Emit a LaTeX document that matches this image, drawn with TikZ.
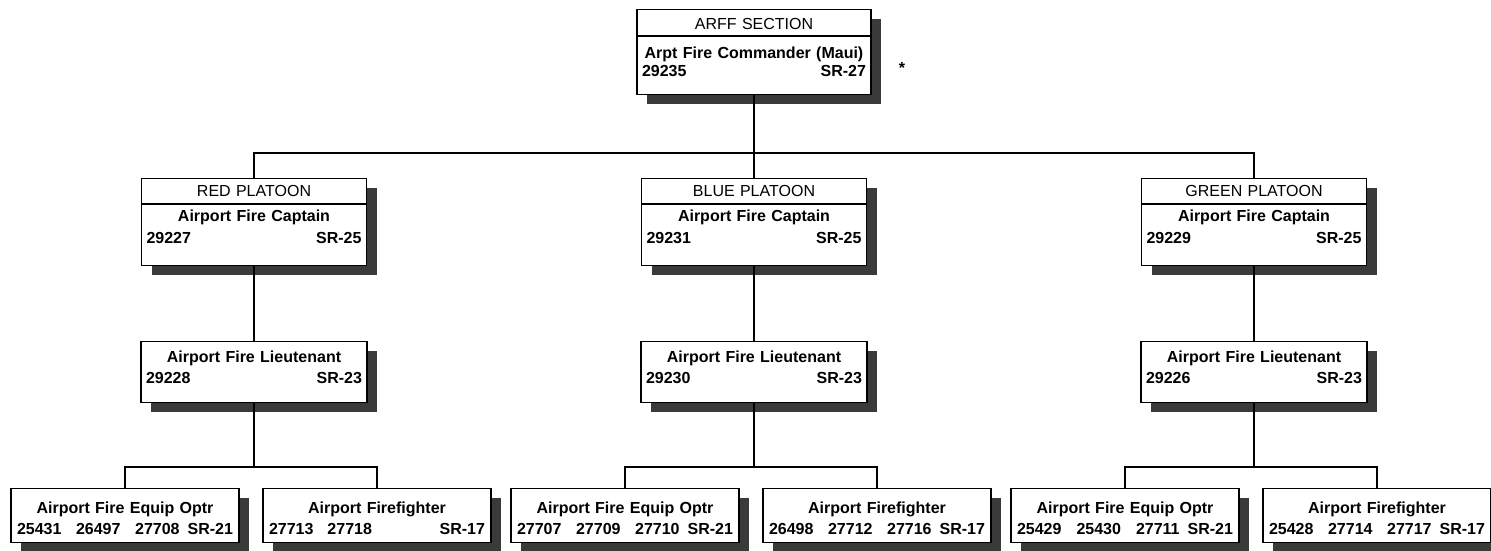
\documentclass[tikz,border=0pt]{standalone}
\usepackage{fontspec}
\setmainfont{Liberation Sans}
\usetikzlibrary{shadows,positioning}
\definecolor{orgshadow}{RGB}{58,58,58}
\newcommand{\unithdr}[1]{{\mdseries #1}}

\begin{document}
\begin{tikzpicture}[
  x=1pt,y=-1pt,
  every node/.style={font=\fontsize{16}{22}\selectfont\bfseries},
  posbox/.style={draw,line width=1.3pt,fill=white,anchor=north,inner xsep=5pt,inner ysep=0pt,align=center,
    drop shadow={shadow xshift=10pt,shadow yshift=-9pt,fill=orgshadow,opacity=1}},
  unitbox/.style={posbox,text width=224pt,text height=20pt,text depth=65pt},
  platbox/.style={posbox,text width=215pt,text height=18pt,text depth=69pt},
  ltbox/.style={posbox,text width=216pt,text height=21pt,text depth=40pt},
  jobbox/.style={posbox,inner xsep=6pt,text width=216pt,text height=25pt,text depth=29pt},
  divider/.style={line width=1.3pt},
  wire/.style={line width=1.2pt}
]
  \useasboundingbox (0,0) rectangle (1491,550);

  % Section head
  \node[unitbox] (arff) at (754,9) {\unithdr{ARFF SECTION}\\[7pt] Arpt Fire Commander (Maui)\\[-4pt] 29235\hfill SR-27};
  \draw[divider] ([yshift=-27pt]arff.north west) -- ([yshift=-27pt]arff.north east);
  \node (star) at (902,68) {*};

  % Platoons
  \node[platbox] (redcap) at (254,178) {\unithdr{RED PLATOON}\\[3pt] Airport Fire Captain\\ 29227\hfill SR-25};
  \node[platbox] (bluecap) at (754,178) {\unithdr{BLUE PLATOON}\\[3pt] Airport Fire Captain\\ 29231\hfill SR-25};
  \node[platbox] (greencap) at (1254,178) {\unithdr{GREEN PLATOON}\\[3pt] Airport Fire Captain\\ 29229\hfill SR-25};
  \draw[divider] ([yshift=-26pt]redcap.north west) -- ([yshift=-26pt]redcap.north east);
  \draw[divider] ([yshift=-26pt]bluecap.north west) -- ([yshift=-26pt]bluecap.north east);
  \draw[divider] ([yshift=-26pt]greencap.north west) -- ([yshift=-26pt]greencap.north east);

  % Lieutenants
  \node[ltbox] (redlt) at (254,341) {Airport Fire Lieutenant\\[-1pt] 29228\hfill SR-23};
  \node[ltbox] (bluelt) at (754,341) {Airport Fire Lieutenant\\[-1pt] 29230\hfill SR-23};
  \node[ltbox] (greenlt) at (1254,341) {Airport Fire Lieutenant\\[-1pt] 29226\hfill SR-23};

  % Crews
  \node[jobbox] (redeq) at (125,488) {Airport Fire Equip Optr\\[-1pt] 25431\hfill 26497\hfill 27708\hspace{8pt}SR-21};
  \node[jobbox] (redff) at (377,488) {Airport Firefighter\\[-1pt] 27713\hspace{14pt}27718\hfill SR-17};
  \node[jobbox] (blueeq) at (625,488) {Airport Fire Equip Optr\\[-1pt] 27707\hfill 27709\hfill 27710\hspace{8pt}SR-21};
  \node[jobbox] (blueff) at (877,488) {Airport Firefighter\\[-1pt] 26498\hfill 27712\hfill 27716\hspace{8pt}SR-17};
  \node[jobbox] (greeneq) at (1125,488) {Airport Fire Equip Optr\\[-1pt] 25429\hfill 25430\hfill 27711\hspace{8pt}SR-21};
  \node[jobbox] (greenff) at (1377,488) {Airport Firefighter\\[-1pt] 25428\hfill 27714\hfill 27717\hspace{8pt}SR-17};

  % Lines
  \coordinate (topbus) at (754,153);
  \draw[wire] (arff.south) -- (topbus);
  \draw[wire] (topbus) -| (redcap.north);
  \draw[wire] (topbus) -- (bluecap.north);
  \draw[wire] (topbus) -| (greencap.north);

  \draw[wire] (redcap.south) -- (redlt.north);
  \draw[wire] (bluecap.south) -- (bluelt.north);
  \draw[wire] (greencap.south) -- (greenlt.north);

  \coordinate (redbus) at (254,467);
  \coordinate (bluebus) at (754,467);
  \coordinate (greenbus) at (1254,467);
  \draw[wire] (redlt.south) -- (redbus);
  \draw[wire] (redbus) -| (redeq.north);
  \draw[wire] (redbus) -| (redff.north);
  \draw[wire] (bluelt.south) -- (bluebus);
  \draw[wire] (bluebus) -| (blueeq.north);
  \draw[wire] (bluebus) -| (blueff.north);
  \draw[wire] (greenlt.south) -- (greenbus);
  \draw[wire] (greenbus) -| (greeneq.north);
  \draw[wire] (greenbus) -| (greenff.north);
\end{tikzpicture}
\end{document}
